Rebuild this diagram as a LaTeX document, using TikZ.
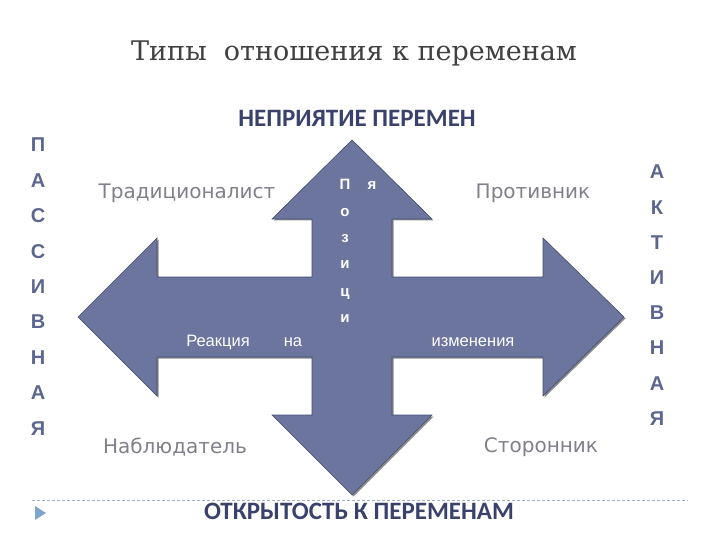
\documentclass[tikz,border=0pt]{standalone}
\usepackage{fontspec}
\setmainfont{DejaVu Serif}
\setsansfont{Liberation Sans}
\newfontfamily\headfont{Carlito}
\newfontfamily\namefont{DejaVu Sans}
\definecolor{titlegray}{RGB}{64,64,64}
\definecolor{headblue}{RGB}{58,66,108}
\definecolor{sideblue}{RGB}{92,102,142}
\definecolor{namegray}{RGB}{128,128,138}
\definecolor{arrowfill}{RGB}{107,117,158}
\definecolor{arrowedge}{RGB}{68,76,112}
\definecolor{rulegray}{RGB}{160,178,200}
\definecolor{bulletblue}{RGB}{125,165,205}

\begin{document}
\begin{tikzpicture}[x=1pt, y=-1pt, line join=miter]
	\tikzset{
		heading/.style={font=\headfont\bfseries\fontsize{25}{25}\selectfont, text=headblue},
		sideletter/.style={font=\sffamily\bfseries\fontsize{20}{20}\selectfont, text=sideblue},
		typename/.style={font=\namefont\fontsize{20}{20}\selectfont, text=namegray},
		inword/.style={font=\sffamily\fontsize{16.5}{16.5}\selectfont, text=white, anchor=base},
		inletter/.style={font=\sffamily\bfseries\fontsize{15}{15}\selectfont, text=white, anchor=base}
	}
	\useasboundingbox (0,0) rectangle (720,540);
	\def\crosspath{(352,140) -- (432,219) -- (392,219) -- (392,277) -- (543,277) -- (543,238)
		-- (624,317) -- (543,396) -- (543,357) -- (392,357) -- (392,415) -- (432,415)
		-- (352,495) -- (272,415) -- (312,415) -- (312,357) -- (157,357) -- (157,396)
		-- (78,317) -- (157,238) -- (157,277) -- (312,277) -- (312,219) -- (272,219) -- cycle}
	% cross arrow with shadow
	\fill[black!45, xshift=1.5pt, yshift=-1.5pt] \crosspath;
	\draw[fill=arrowfill, draw=arrowedge, line width=0.6pt] \crosspath;
	% title and axis headings
	\node[font=\fontsize{27}{30}\selectfont, text=titlegray, anchor=base] (title) at (354,61) {Типы\ \ отношения к переменам};
	\node[heading, anchor=base] (reject) at (357,127) {НЕПРИЯТИЕ ПЕРЕМЕН};
	\node[heading, anchor=base] (open) at (359,519) {ОТКРЫТОСТЬ К ПЕРЕМЕНАМ};
	\foreach \ch [count=\i] in {П,А,С,С,И,В,Н,А,Я}
		\node[sideletter] (pas\i) at (38,{145+35.4*(\i-1)}) {\ch};
	\foreach \ch [count=\i] in {А,К,Т,И,В,Н,А,Я}
		\node[sideletter] (act\i) at (657,{172+35.2*(\i-1)}) {\ch};
	% four types
	\node[typename] (trad) at (187,193) {Традиционалист};
	\node[typename] (opp) at (533,193) {Противник};
	\node[typename] (obs) at (175,447) {Наблюдатель};
	\node[typename] (sup) at (541,447) {Сторонник};
	% text inside the arrow
	\node[inletter] (pos1) at (345,190) {П};
	\node[inletter] (pos7) at (372,190) {я};
	\node[inletter] (pos2) at (345,217) {о};
	\node[inletter] (pos3) at (345,242) {з};
	\node[inletter] (pos4) at (345,268) {и};
	\node[inletter] (pos5) at (345,296) {ц};
	\node[inletter] (pos6) at (345,322) {и};
	\node[inword] (react) at (218,346) {Реакция};
	\node[inword] (on) at (293,346) {на};
	\node[inword] (change) at (473,346) {изменения};
	% footer rule and bullet
	\coordinate (ruleL) at (32,500);
	\coordinate (ruleR) at (688,500);
	\draw[rulegray, dashed, dash pattern=on 3pt off 2pt, line width=0.6pt] (ruleL) -- (ruleR);
	\fill[bulletblue] (35,506) -- (46,513) -- (35,520) -- cycle;
\end{tikzpicture}
\end{document}
